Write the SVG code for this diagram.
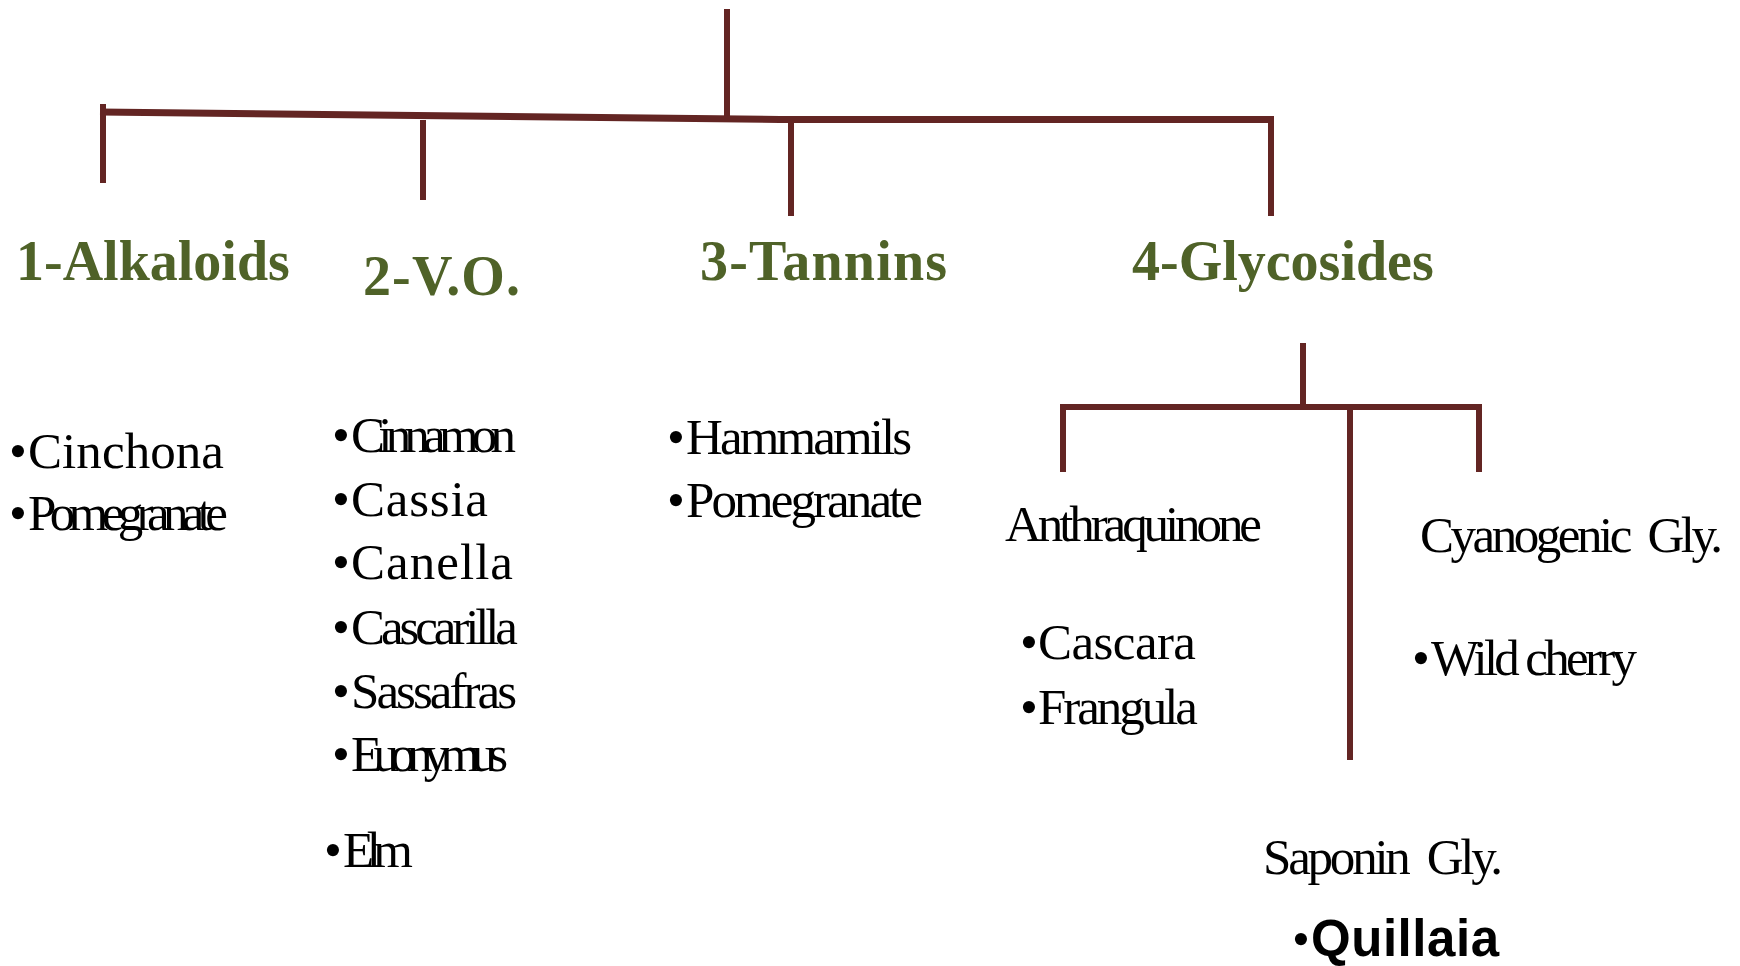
<svg xmlns="http://www.w3.org/2000/svg" width="1740" height="966" viewBox="0 0 1740 966">
<style>
.ln{stroke:#632523;stroke-width:6;fill:none;stroke-linecap:butt}
.hd{font-family:"Liberation Serif","Times New Roman",serif;font-weight:bold;font-size:56px;fill:#4F6228}
.it{font-family:"Liberation Serif","Times New Roman",serif;font-size:51px;fill:#000}
.bl{font-family:"Liberation Serif","Times New Roman",serif;font-size:51px;fill:#000}
.qb{font-family:"Liberation Sans",Arial,sans-serif;font-weight:bold;font-size:51px;fill:#000}
</style>
<rect width="1740" height="966" fill="#fff"/>
<g id="connectors">
<line class="ln" x1="727" y1="9" x2="727" y2="117"/>
<polyline class="ln" style="stroke-width:7" points="100,112 780,119.5 1274,119.5"/>
<line class="ln" x1="103" y1="104" x2="103" y2="183"/>
<line class="ln" x1="423" y1="120" x2="423" y2="200"/>
<line class="ln" x1="791" y1="122" x2="791" y2="216"/>
<line class="ln" x1="1271" y1="119" x2="1271" y2="216"/>
<line class="ln" x1="1303" y1="343" x2="1303" y2="407"/>
<line class="ln" x1="1060" y1="407" x2="1482" y2="407"/>
<line class="ln" x1="1063" y1="404" x2="1063" y2="472"/>
<line class="ln" x1="1479" y1="404" x2="1479" y2="472"/>
<line class="ln" x1="1350" y1="407" x2="1350" y2="760"/>
</g>
<g id="alkaloids">
<text class="hd" x="16" y="280">1-Alkaloids</text>
<text class="bl" x="9" y="468">•</text>
<text class="it" x="28" y="468" textLength="196" lengthAdjust="spacing">Cinchona</text>
<text class="bl" x="9" y="530">•</text>
<text class="it" x="28" y="530" textLength="200" lengthAdjust="spacing">Pomegranate</text>
</g>
<g id="vo">
<text class="hd" x="363" y="295" textLength="157" lengthAdjust="spacing">2-V.O.</text>
<text class="bl" x="332" y="452">•</text>
<text class="it" x="351" y="452" textLength="165" lengthAdjust="spacing">Cinnamon</text>
<text class="bl" x="332" y="516">•</text>
<text class="it" x="351" y="516" textLength="137" lengthAdjust="spacing">Cassia</text>
<text class="bl" x="332" y="579">•</text>
<text class="it" x="351" y="579" textLength="162" lengthAdjust="spacing">Canella</text>
<text class="bl" x="332" y="644">•</text>
<text class="it" x="351" y="644" textLength="167" lengthAdjust="spacing">Cascarilla</text>
<text class="bl" x="332" y="708">•</text>
<text class="it" x="351" y="708" textLength="166" lengthAdjust="spacing">Sassafras</text>
<text class="bl" x="332" y="771">•</text>
<text class="it" x="351" y="771" textLength="157" lengthAdjust="spacing">Euonymus</text>
<text class="bl" x="324" y="867">•</text>
<text class="it" x="343" y="867" textLength="70" lengthAdjust="spacing">Elm</text>
</g>
<g id="tannins">
<text class="hd" x="700" y="280" textLength="247" lengthAdjust="spacing">3-Tannins</text>
<text class="bl" x="667" y="454">•</text>
<text class="it" x="686" y="454" textLength="226" lengthAdjust="spacing">Hammamils</text>
<text class="bl" x="667" y="517">•</text>
<text class="it" x="686" y="517" textLength="237" lengthAdjust="spacing">Pomegranate</text>
</g>
<g id="glycosides">
<text class="hd" x="1132" y="280">4-Glycosides</text>
</g>
<g id="anthraquinone">
<text class="it" x="1005" y="541" textLength="257" lengthAdjust="spacing">Anthraquinone</text>
<text class="bl" x="1020" y="659">•</text>
<text class="it" x="1038" y="659" textLength="158" lengthAdjust="spacing">Cascara</text>
<text class="bl" x="1020" y="724">•</text>
<text class="it" x="1038" y="724" textLength="160" lengthAdjust="spacing">Frangula</text>
</g>
<g id="cyanogenic">
<text class="it" x="1420" y="552" textLength="303" lengthAdjust="spacing">Cyanogenic&#160; Gly.</text>
<text class="bl" x="1412" y="675">•</text>
<text class="it" x="1431" y="675" textLength="206" lengthAdjust="spacing">Wild cherry</text>
</g>
<g id="saponin">
<text class="it" x="1263" y="874" textLength="240" lengthAdjust="spacing">Saponin&#160; Gly.</text>
<text class="bl" x="1292" y="956">•</text>
<text class="qb" x="1311" y="956" textLength="188" lengthAdjust="spacing">Quillaia</text>
</g>
</svg>
